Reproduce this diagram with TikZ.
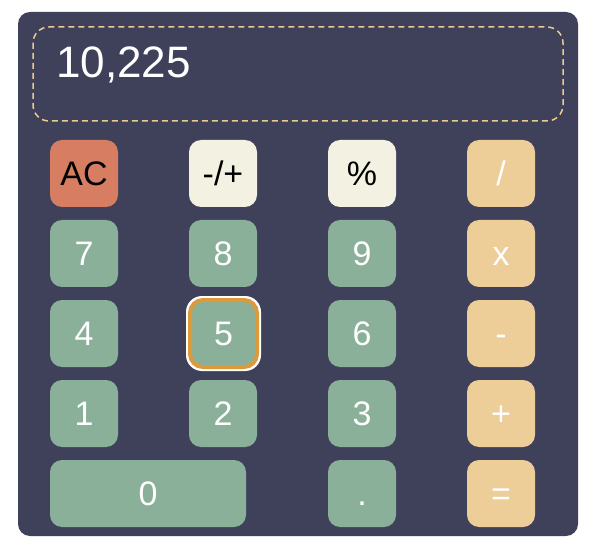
\documentclass[tikz,border=0pt]{standalone}
\usepackage{fontspec}
\setmainfont{Liberation Sans}
\definecolor{panel}{HTML}{3F405A}
\definecolor{keygreen}{HTML}{8BB09A}
\definecolor{keyred}{HTML}{D67D62}
\definecolor{keycream}{HTML}{F3F2E2}
\definecolor{keybeige}{HTML}{EDCD98}
\definecolor{ringorange}{HTML}{DB9B3B}
\definecolor{dashcol}{HTML}{EBCA90}
\tikzset{
  btn/.style={rectangle, rounded corners=12pt, minimum width=68pt, minimum height=67pt,
    inner sep=0pt, outer sep=0pt, text height=24.3pt, text depth=0pt,
    font=\fontsize{34}{40}\selectfont},
  numkey/.style={btn, fill=keygreen, text=white},
  opkey/.style={btn, fill=keybeige, text=white},
  funkey/.style={btn, fill=keycream, text=black},
  clearkey/.style={btn, fill=keyred, text=black}
}
\begin{document}
\begin{tikzpicture}[x=1pt,y=-1pt]
\useasboundingbox (0,0) rectangle (600,556);
% panel
\fill[panel, rounded corners=12pt] (18,12) rectangle (578,536);
% display
\draw[dashcol, line width=1.5pt, dash pattern=on 6pt off 4pt, rounded corners=16pt] (33,27) rectangle (563,121);
\node[anchor=base west, text=white, font=\fontsize{44}{50}\selectfont, inner sep=0pt] (disp) at (56,78) {10,225};
% row 1
\node[clearkey] (ac) at (84,173.5) {AC};
\node[funkey] (sign) at (223,173.5) {-/+};
\node[funkey] (pct) at (362,173.5) {\%};
\node[opkey] (div) at (501,173.5) {/};
% row 2
\node[numkey] (b7) at (84,253.5) {7};
\node[numkey] (b8) at (223,253.5) {8};
\node[numkey] (b9) at (362,253.5) {9};
\node[opkey] (mul) at (501,253.5) {x};
% row 3
\node[numkey] (b4) at (84,333.5) {4};
\fill[white, rounded corners=16pt] (186,296) rectangle (261,371);
\node[numkey, draw=ringorange, line width=4pt, minimum width=67pt, minimum height=67pt, rounded corners=13pt] (b5) at (223.5,333.5) {5};
\node[numkey] (b6) at (362,333.5) {6};
\node[opkey] (sub) at (501,333.5) {-};
% row 4
\node[numkey] (b1) at (84,413.5) {1};
\node[numkey] (b2) at (223,413.5) {2};
\node[numkey] (b3) at (362,413.5) {3};
\node[opkey] (add) at (501,413.5) {+};
% row 5
\node[numkey, minimum width=196pt] (b0) at (148,493.5) {0};
\node[numkey] (dot) at (362,493.5) {.};
\node[opkey] (eq) at (501,493.5) {=};
\end{tikzpicture}
\end{document}
